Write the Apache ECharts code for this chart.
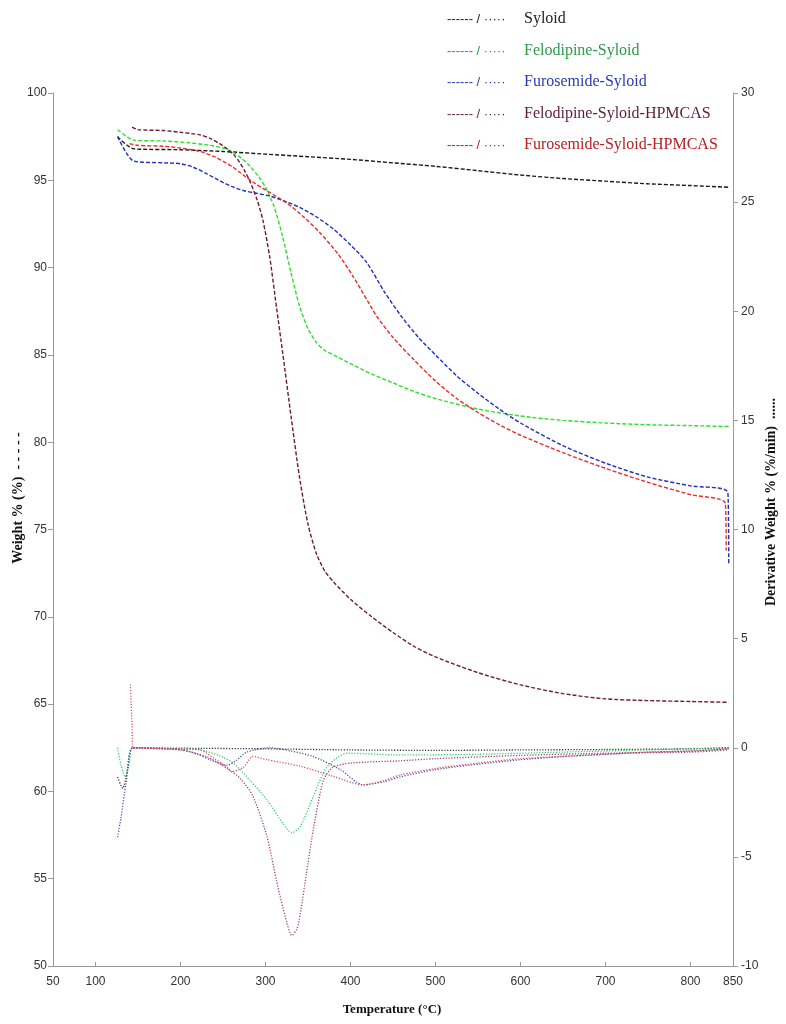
<!DOCTYPE html>
<html>
<head>
<meta charset="utf-8">
<script src="https://cdn.jsdelivr.net/npm/echarts@6/dist/echarts.min.js"></script>
<style>html,body{margin:0;padding:0;background:#fff;}#c{width:786px;height:1024px;}</style>
</head>
<body>
<div id="c"></div>
<script>
// ---------- DATA ----------
const seriesNames = ['Syloid','Felodipine-Syloid','Furosemide-Syloid','Felodipine-Syloid-HPMCAS','Furosemide-Syloid-HPMCAS'];
const xTickLabels = [50,100,200,300,400,500,600,700,800,850];

// Weight % (left axis)
const syloidWT = [126,145,200,250,300,350,400,450,500,550,600,650,700,750,800,845];
const syloidW  = [97.5,96.8,96.75,96.65,96.5,96.35,96.2,96.0,95.8,95.55,95.3,95.1,94.95,94.8,94.7,94.6];

const felSylWT = [126,145,180,210,235,250,262,272,282,292,300,310,320,330,340,350,360,370,380,400,425,450,475,500,550,600,650,700,750,800,845];
const felSylW  = [97.9,97.3,97.25,97.15,97.0,96.85,96.6,96.25,95.8,95.2,94.6,93.5,91.8,89.7,87.8,86.5,85.7,85.25,85.0,84.5,83.9,83.4,82.9,82.5,81.9,81.5,81.25,81.1,81.0,80.95,80.9];

const furSylWT = [126,145,180,200,215,230,245,260,275,290,305,320,340,360,380,400,419,440,460,480,500,525,550,575,600,650,700,750,800,844,845];
const furSylW  = [97.5,96.1,96.0,95.95,95.75,95.4,95.0,94.65,94.4,94.25,94.1,93.85,93.45,92.9,92.2,91.3,90.3,88.6,87.2,86.0,85.0,83.8,82.8,81.9,81.1,79.8,78.8,78.0,77.5,77.1,73.0];

const felHPWT = [143,150,180,200,223,235,246,255,262,270,276,282,290,297,305,313,320,330,340,350,360,370,380,400,425,450,475,500,550,600,650,700,750,800,845];
const felHPW  = [98.05,97.9,97.85,97.75,97.6,97.4,97.1,96.8,96.5,96.0,95.5,94.9,93.9,92.7,90.6,87.7,85.2,81.5,78.0,75.3,73.6,72.6,72.0,71.0,70.0,69.1,68.3,67.7,66.8,66.1,65.6,65.3,65.2,65.15,65.1];

const furHPWT = [140,150,180,200,223,240,255,262,270,285,300,325,345,364,385,403,420,431,450,475,500,525,550,575,600,650,700,750,800,841,842];
const furHPW  = [97.1,97.0,96.95,96.85,96.65,96.35,95.95,95.75,95.45,94.9,94.45,93.7,92.9,92.0,90.8,89.5,88.1,87.2,86.0,84.7,83.5,82.5,81.7,81.0,80.4,79.4,78.5,77.7,77.0,76.5,73.8];

// Derivative weight %/min (right axis)
const syloidDT = [126,132,138,144,200,300,400,500,600,700,800,845];
const syloidD  = [-1.34,-1.86,-1.0,0,-0.02,-0.05,-0.1,-0.12,-0.1,-0.08,-0.05,0];

const felSylDT = [126,130,135,140,144,200,223,245,262,282,302,321,331,341,356,372,396,458,550,650,750,845];
const felSylD  = [0,-0.8,-1.34,-0.6,0,-0.05,-0.1,-0.35,-0.7,-1.5,-2.4,-3.5,-3.9,-3.6,-2.25,-0.9,-0.25,-0.33,-0.3,-0.2,-0.1,0];

const furSylDT = [126,130,136,144,180,203,220,235,255,265,278,305,330,356,388,415,440,458,500,550,600,650,700,750,800,845];
const furSylD  = [-4.1,-3.2,-1.6,0,-0.05,-0.1,-0.3,-0.55,-0.8,-0.6,-0.2,0,-0.15,-0.4,-1.0,-1.7,-1.55,-1.34,-1.0,-0.75,-0.55,-0.4,-0.3,-0.2,-0.15,-0.05];

const felHPDT = [144,200,230,255,270,285,302,313,325,331,337,341,348,356,368,379,400,458,500,600,700,800,845];
const felHPD  = [0,-0.1,-0.4,-0.95,-1.4,-2.2,-4.1,-6.1,-8.0,-8.6,-8.3,-7.6,-5.8,-3.8,-1.5,-0.9,-0.7,-0.6,-0.5,-0.35,-0.25,-0.2,-0.1];

const furHPDT = [141,143,144,200,223,240,255,260,274,285,302,341,379,415,440,458,500,550,600,650,700,750,800,845];
const furHPD  = [2.9,1.0,0,-0.05,-0.1,-0.5,-0.9,-1.1,-0.9,-0.4,-0.55,-0.85,-1.3,-1.7,-1.5,-1.25,-0.95,-0.7,-0.5,-0.4,-0.3,-0.2,-0.15,-0.05];

// ---------- STYLE ----------
const dashColors = ['#1a1a1a','#2ee02e','#1f2fc0','#6b1a3c','#ec2a2a'];
const dotColors  = ['#333333','#2fcf6a','#4d4daa','#a23d72','#d4506c'];
const legendColors = ['#222222','#2e9a4a','#2a3cb0','#5c1e3e','#b52025'];

function pairs(t, v){ return t.map((x,i)=>[x, v[i]]); }

const weightSets = [[syloidWT,syloidW],[felSylWT,felSylW],[furSylWT,furSylW],[felHPWT,felHPW],[furHPWT,furHPW]];
const derivSets  = [[syloidDT,syloidD],[felSylDT,felSylD],[furSylDT,furSylD],[felHPDT,felHPD],[furHPDT,furHPD]];

const series = [];
weightSets.forEach((s,i)=>{
  series.push({name: seriesNames[i]+' weight', type:'line', yAxisIndex:0, data: pairs(s[0],s[1]),
    showSymbol:false, smooth:0.25, silent:true,
    lineStyle:{color:dashColors[i], width:1.4, type:[4,2]}});
});
derivSets.forEach((s,i)=>{
  series.push({name: seriesNames[i]+' derivative', type:'line', yAxisIndex:1, data: pairs(s[0],s[1]),
    showSymbol:false, smooth:0.25, silent:true,
    lineStyle:{color:dotColors[i], width:1.3, type:[1.2,1.6]}});
});

const graphics = [];
const legTop = 18, legStep = 31.5;
seriesNames.forEach((n,i)=>{
  graphics.push({type:'text', left:447, top: legTop + i*legStep - 5,
    style:{text:'------ / \u00b7\u00b7\u00b7\u00b7\u00b7', fill:legendColors[i], font:'13px "Liberation Sans", Arial, sans-serif'}});
  graphics.push({type:'text', left:524, top: legTop + i*legStep - 7,
    style:{text:n, fill:legendColors[i], font:'16px "Liberation Serif", "Times New Roman", serif'}});
});
graphics.push({type:'text', x:18, y:498, rotation:Math.PI/2,
  style:{text:'Weight % (%)  - - - - -', fill:'#111', font:'bold 14px "Liberation Serif", serif', textAlign:'center', textVerticalAlign:'middle'}});
graphics.push({type:'text', x:771, y:502, rotation:Math.PI/2,
  style:{text:'Derivative Weight % (%/min)  ......', fill:'#111', font:'bold 14px "Liberation Serif", serif', textAlign:'center', textVerticalAlign:'middle'}});
graphics.push({type:'text', x:392, y:1010,
  style:{text:'Temperature (\u00b0C)', fill:'#111', font:'bold 13px "Liberation Serif", serif', textAlign:'center', textVerticalAlign:'middle'}});

const axisLabelStyle = {color:'#333', fontSize:12, fontFamily:'"Liberation Sans", Arial, sans-serif'};

const option = {
  animation:false,
  backgroundColor:'#fff',
  grid:{left:53, right:53, top:93, bottom:58, containLabel:false},
  xAxis:{type:'value', min:50, max:850, interval:50,
    axisLine:{show:true, onZero:false, lineStyle:{color:'#9a9a9a', width:1}},
    axisTick:{show:true, inside:true, length:4, customValues:xTickLabels, lineStyle:{color:'#9a9a9a'}},
    axisLabel:Object.assign({customValues:xTickLabels, margin:10}, axisLabelStyle),
    splitLine:{show:false}},
  yAxis:[
    {type:'value', position:'left', min:50, max:100, interval:5,
      axisLine:{show:true, lineStyle:{color:'#9a9a9a'}},
      axisTick:{show:true, length:5, lineStyle:{color:'#9a9a9a'}},
      axisLabel:Object.assign({margin:6}, axisLabelStyle),
      splitLine:{show:false}},
    {type:'value', position:'right', min:-10, max:30, interval:5,
      axisLine:{show:true, lineStyle:{color:'#9a9a9a'}},
      axisTick:{show:true, length:5, lineStyle:{color:'#9a9a9a'}},
      axisLabel:Object.assign({margin:8}, axisLabelStyle),
      splitLine:{show:false}}
  ],
  graphic: graphics,
  series: series
};
const chart = echarts.init(document.getElementById('c'), null, {renderer:'canvas'});
chart.setOption(option);
</script>
</body>
</html>
